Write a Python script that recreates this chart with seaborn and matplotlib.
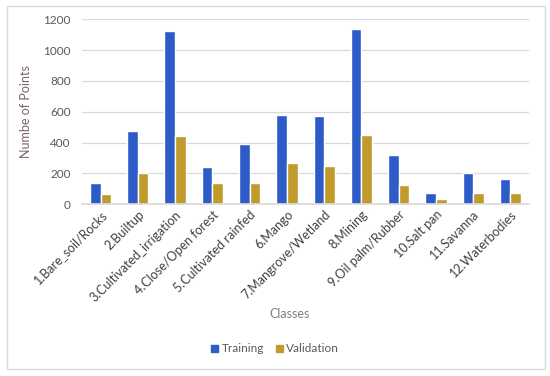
import matplotlib
matplotlib.use('Agg')
import matplotlib.pyplot as plt
from matplotlib.patches import Rectangle
import pandas as pd
import seaborn as sns

# values
classes = ['1.Bare_soil/Rocks', '2.Builtup', '3.Cultivated_irrigation', '4.Close/Open forest',
           '5.Cultivated rainfed', '6.Mango', '7.Mangrove/Wetland', '8.Mining',
           '9.Oil palm/Rubber', '10.Salt pan', '11.Savanna', '12.Waterbodies']
training = [140, 475, 1125, 240, 390, 580, 570, 1135, 320, 75, 200, 165]
validation = [65, 205, 440, 135, 140, 270, 250, 450, 125, 35, 70, 70]

df = pd.DataFrame({'Classes': classes * 2,
                   'Points': training + validation,
                   'Set': ['Training'] * len(classes) + ['Validation'] * len(classes)})

sns.set_theme(style='white')
plt.rcParams['font.family'] = ['Lato', 'DejaVu Sans']

fig = plt.figure(figsize=(5.5, 3.76), dpi=100)
ax = fig.add_axes([0.149, 0.457, 0.813, 0.492])

sns.barplot(data=df, x='Classes', y='Points', hue='Set',
            palette=['#2d5cc9', '#c09a2a'], width=0.57, gap=0,
            saturation=1, ax=ax, legend=False)

ax.set_ylim(0, 1200)
ax.set_yticks(range(0, 1201, 200))
ax.yaxis.grid(True, color='#d9d9d9', linewidth=0.9)
ax.set_axisbelow(True)
for s in ['top', 'right', 'left']:
    ax.spines[s].set_visible(False)
ax.spines['bottom'].set_color('#d9d9d9')
ax.tick_params(axis='y', colors='#595959', labelsize=8.5, length=0, pad=8)
ax.tick_params(axis='x', colors='#404040', labelsize=9, length=0, pad=3)
plt.setp(ax.get_xticklabels(), rotation=45, ha='right', rotation_mode='anchor')

ax.set_ylabel('Numbe of Points', color='#7a6464', fontsize=9, labelpad=8)
ax.set_xlabel('')
fig.text(0.527, 0.165, 'Classes', color='#7f7f7f', fontsize=9, ha='center', va='center')

# legend at bottom
handles = [Rectangle((0, 0), 1, 1, color='#2d5cc9'), Rectangle((0, 0), 1, 1, color='#c09a2a')]
fig.legend(handles, ['Training', 'Validation'], loc='center', bbox_to_anchor=(0.5, 0.072),
           ncol=2, frameon=False, fontsize=8.5, handlelength=0.6, handleheight=0.6,
           handletextpad=0.3, columnspacing=1.0, labelcolor='#595959')

# chart frame
fig.patches.append(Rectangle((0.012, 0.018), 0.978, 0.966, transform=fig.transFigure,
                             fill=False, edgecolor='#d9d9d9', linewidth=1))

fig.savefig('out.png', dpi=100)
